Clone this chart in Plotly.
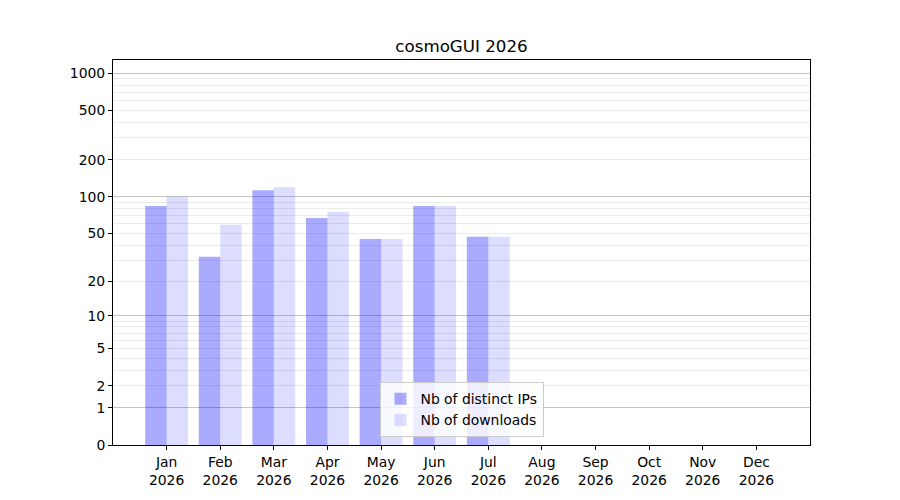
import numpy as np
import plotly.graph_objects as go

months = ["Jan", "Feb", "Mar", "Apr", "May", "Jun", "Jul", "Aug", "Sep", "Oct", "Nov", "Dec"]
year = "2026"
distinct_ips = [84, 32, 113, 67, 45, 84, 47, 0, 0, 0, 0, 0]
downloads = [100, 59, 120, 75, 45, 84, 47, 0, 0, 0, 0, 0]
major_ticks = [0, 1, 2, 5, 10, 20, 50, 100, 200, 500, 1000]
decade_ticks = [1, 10, 100, 1000]
minor_ticks = [3, 4, 6, 7, 8, 9, 30, 40, 60, 70, 80, 90, 300, 400, 600, 700, 800, 900]
y_max = 1280


def tf(v):
    return np.log10(1 + np.asarray(v, dtype=float))


idx = list(range(len(months)))
labels = [f"{m}<br>{year}" for m in months]
font = "DejaVu Sans"
fs = 13.9

fig = go.Figure()
fig.add_trace(go.Bar(x=idx, y=tf(distinct_ips), name="Nb of distinct IPs",
                     marker=dict(color="rgba(0,0,255,0.333)", line=dict(width=0))))
fig.add_trace(go.Bar(x=idx, y=tf(downloads), name="Nb of downloads",
                     marker=dict(color="rgba(0,0,255,0.133)", line=dict(width=0))))
# invisible trace to activate the decade-grid axis
fig.add_trace(go.Scatter(x=[idx[0]], y=[0], yaxis="y2", mode="markers",
                         marker=dict(opacity=0), showlegend=False, hoverinfo="skip"))

yr = [0, float(tf(y_max))]
fig.update_layout(
    width=900, height=500,
    margin=dict(l=105, r=98, t=52, b=63),
    paper_bgcolor="white", plot_bgcolor="white",
    font=dict(family=font, size=fs, color="black"),
    barmode="group", bargap=0.2, bargroupgap=0,
    title=dict(text=f"cosmoGUI {year}", x=0.5, xref="paper", xanchor="center",
               y=1 - 38 / 500, yref="container", yanchor="middle",
               font=dict(family=font, size=16.7, color="black")),
    xaxis=dict(range=[-1, 12], tickvals=idx, ticktext=labels, showgrid=False,
               ticks="outside", ticklen=4, tickcolor="black", showline=True,
               linecolor="black", linewidth=1, mirror=True, zeroline=False,
               tickfont=dict(size=fs)),
    yaxis=dict(range=yr, tickvals=tf(major_ticks), ticktext=[str(t) for t in major_ticks],
               showgrid=True, gridcolor="#ebebeb", gridwidth=1,
               minor=dict(tickvals=tf(minor_ticks), showgrid=True, gridcolor="#ebebeb",
                          gridwidth=1, ticks=""),
               ticks="outside", ticklen=4, tickcolor="black", showline=True,
               linecolor="black", linewidth=1, mirror=True, zeroline=False,
               tickfont=dict(size=fs)),
    yaxis2=dict(range=yr, overlaying="y", tickvals=tf(decade_ticks), showgrid=True,
                gridcolor="#c4c4c4", gridwidth=1, showticklabels=False, ticks="",
                zeroline=False, showline=False),
    legend=dict(x=0.5, xanchor="center", y=0.02, yanchor="bottom",
                bgcolor="rgba(255,255,255,0.8)", bordercolor="#cccccc", borderwidth=1,
                font=dict(size=fs)),
)
fig.write_html("out.html")
